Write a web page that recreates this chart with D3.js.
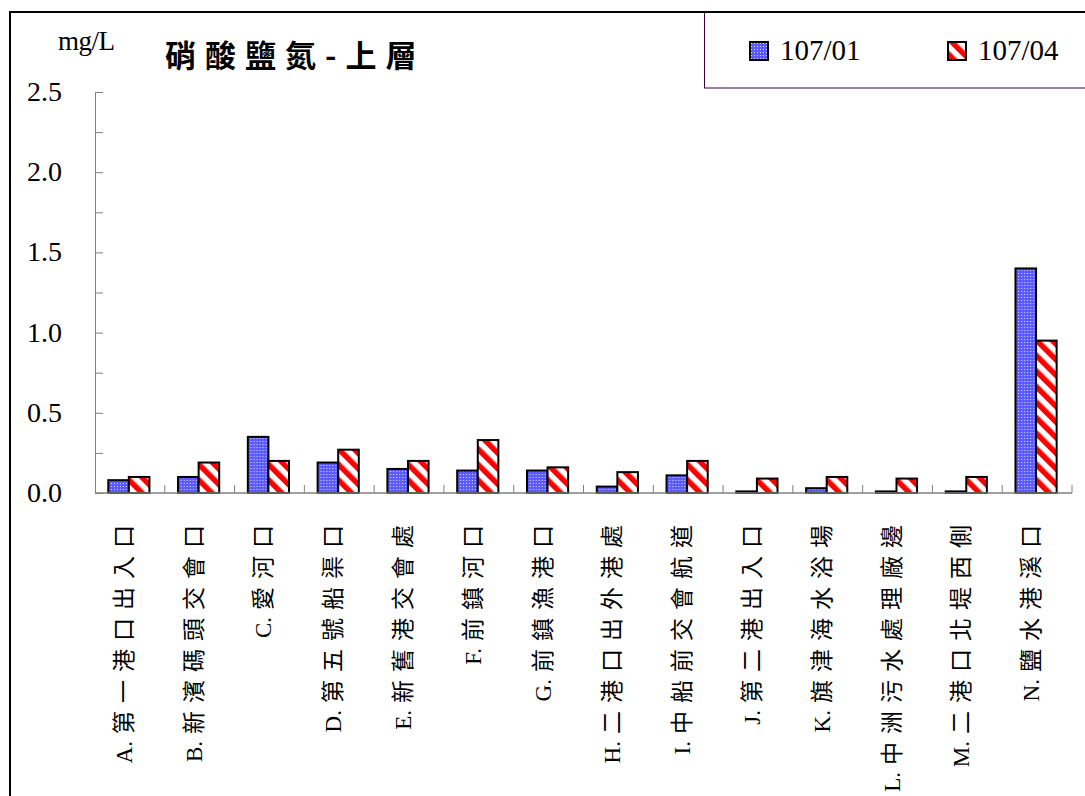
<!DOCTYPE html>
<html>
<head>
<meta charset="utf-8">
<script src="https://cdn.jsdelivr.net/npm/d3@7"></script>
<style>
  body { margin: 0; background: #fff; }
  svg { display: block; }
</style>
</head>
<body>
<div id="chart"></div>
<script>
// categories and values
var codes = ["A.", "B.", "C.", "D.", "E.", "F.", "G.", "H.", "I.", "J.", "K.", "L.", "M.", "N."];
var sites = ["第一港口出入口", "新濱碼頭交會口", "愛河口", "第五號船渠口",
  "新舊港交會處", "前鎮河口", "前鎮漁港口", "二港口出外港處",
  "中船前交會航道", "第二港出入口", "旗津海水浴場", "中洲污水處理廠邊",
  "二港口北堤西側", "鹽水港溪口"];
var jan = [0.08, 0.10, 0.35, 0.19, 0.15, 0.14, 0.14, 0.04, 0.11, 0.01, 0.03, 0.01, 0.01, 1.40];
var apr = [0.10, 0.19, 0.20, 0.27, 0.20, 0.33, 0.16, 0.13, 0.20, 0.09, 0.10, 0.09, 0.10, 0.95];
var seriesNames = ["107/01", "107/04"];
var yTicks = [0, 0.5, 1.0, 1.5, 2.0, 2.5];

var W = 1085, H = 796;
var margin = {left: 95, right: 13, top: 92, bottom: 303};
var width = W - margin.left - margin.right;
var height = H - margin.top - margin.bottom;

var serif = "'Liberation Serif', 'Times New Roman', serif";
var cjk = "'Liberation Serif', 'Noto Sans CJK TC', serif";

var svg = d3.select("#chart").append("svg")
    .attr("width", W)
    .attr("height", H);

// patterns
var defs = svg.append("defs");
var pb = defs.append("pattern")
    .attr("id", "dots")
    .attr("patternUnits", "userSpaceOnUse")
    .attr("width", 3).attr("height", 3);
pb.append("rect").attr("width", 3).attr("height", 3).attr("fill", "#5b5bff");
pb.append("rect").attr("x", 1).attr("y", 1).attr("width", 1).attr("height", 1).attr("fill", "#d8d8ff");

var pr = defs.append("pattern")
    .attr("id", "stripes")
    .attr("patternUnits", "userSpaceOnUse")
    .attr("width", 11).attr("height", 11)
    .attr("patternTransform", "rotate(-45)");
pr.append("rect").attr("width", 11).attr("height", 11).attr("fill", "#fff");
pr.append("rect").attr("width", 5.5).attr("height", 11).attr("fill", "#ff0000");

// outer frame
svg.append("path")
    .attr("d", "M10," + H + "V12H" + W)
    .attr("fill", "none")
    .attr("stroke", "#000")
    .attr("stroke-width", 2);

var g = svg.append("g")
    .attr("transform", "translate(" + margin.left + "," + margin.top + ")");

var x = d3.scaleBand()
    .domain(sites)
    .range([0, width]);

var xs = d3.scaleBand()
    .domain(seriesNames)
    .range([x.bandwidth() * 0.19, x.bandwidth() * 0.78]);

var y = d3.scaleLinear()
    .domain([0, 2.5])
    .range([height, 0]);

// y axis, ticks pointing inward
var yAxis = g.append("g")
    .call(d3.axisRight(y).tickValues(d3.range(0, 2.51, 0.25)).tickSize(8).tickFormat(""));
yAxis.select(".domain").attr("stroke", "#808080");
yAxis.selectAll(".tick line").attr("stroke", "#808080");

g.selectAll(".ylab")
    .data(yTicks)
    .enter()
    .append("text")
    .attr("x", -33)
    .attr("y", function(d) { return y(d) + 9; })
    .attr("text-anchor", "end")
    .attr("font-family", serif)
    .attr("font-size", 28)
    .text(function(d) { return d.toFixed(1); });

// bars
var data = sites.map(function(s, i) { return {site: s, vals: [jan[i], apr[i]]}; });
var fills = ["url(#dots)", "url(#stripes)"];

var grp = g.selectAll(".grp")
    .data(data)
    .enter()
    .append("g")
    .attr("transform", function(d) { return "translate(" + x(d.site) + ",0)"; });

grp.selectAll("rect")
    .data(function(d) { return d.vals.map(function(v, j) { return {k: seriesNames[j], v: v, j: j}; }); })
    .enter()
    .append("rect")
    .attr("x", function(d) { return xs(d.k); })
    .attr("y", function(d) { return y(d.v); })
    .attr("width", xs.bandwidth())
    .attr("height", function(d) { return height - y(d.v); })
    .attr("fill", function(d) { return fills[d.j]; })
    .attr("stroke", "#000")
    .attr("stroke-width", 2);

// x axis, category ticks pointing up
var xAxis = g.append("g")
    .attr("transform", "translate(0," + height + ")");
xAxis.append("line")
    .attr("x1", 0).attr("x2", width)
    .attr("stroke", "#808080").attr("stroke-width", 1.5);
xAxis.selectAll(".xt")
    .data(sites)
    .enter()
    .append("line")
    .attr("x1", function(d) { return x(d) + x.bandwidth(); })
    .attr("x2", function(d) { return x(d) + x.bandwidth(); })
    .attr("y1", 0).attr("y2", -8)
    .attr("stroke", "#808080");

// category labels, rotated
var xlab = g.selectAll(".xlab")
    .data(sites)
    .enter()
    .append("text")
    .attr("transform", function(d) {
        return "translate(" + (x(d) + x.bandwidth() / 2 + 2) + "," + (height + 24) + ") rotate(-90)";
    })
    .attr("text-anchor", "end")
    .attr("font-family", cjk)
    .attr("font-size", 23);
xlab.append("tspan")
    .attr("letter-spacing", 0)
    .text(function(d, i) { return codes[i]; });
xlab.append("tspan")
    .attr("dx", 7)
    .attr("letter-spacing", 8)
    .text(function(d) { return d; });

// unit and title
svg.append("text")
    .attr("x", 58).attr("y", 50)
    .attr("font-family", serif)
    .attr("font-size", 27)
    .attr("letter-spacing", -0.5)
    .text("mg/L");

svg.append("text")
    .attr("x", 165).attr("y", 67)
    .attr("font-family", "'Noto Sans CJK TC', sans-serif")
    .attr("font-weight", "bold")
    .attr("font-size", 31)
    .attr("letter-spacing", 9)
    .text("硝酸鹽氮-上層");

// legend
svg.append("rect")
    .attr("x", 704.5).attr("y", 12)
    .attr("width", W - 704).attr("height", 76)
    .attr("fill", "#fff")
    .attr("stroke", "#400040")
    .attr("stroke-width", 1);
svg.append("line")
    .attr("x1", 704).attr("x2", W).attr("y1", 12).attr("y2", 12)
    .attr("stroke", "#000").attr("stroke-width", 2);

var legX = [750, 948];
var leg = svg.selectAll(".leg")
    .data(seriesNames)
    .enter()
    .append("g")
    .attr("transform", function(d, i) { return "translate(" + legX[i] + ",42)"; });
leg.append("rect")
    .attr("width", 18).attr("height", 18)
    .attr("fill", function(d, i) { return fills[i]; })
    .attr("stroke", "#000")
    .attr("stroke-width", 2);
leg.append("text")
    .attr("x", 30).attr("y", 18)
    .attr("font-family", serif)
    .attr("font-size", 29)
    .text(function(d) { return d; });
</script>
</body>
</html>
